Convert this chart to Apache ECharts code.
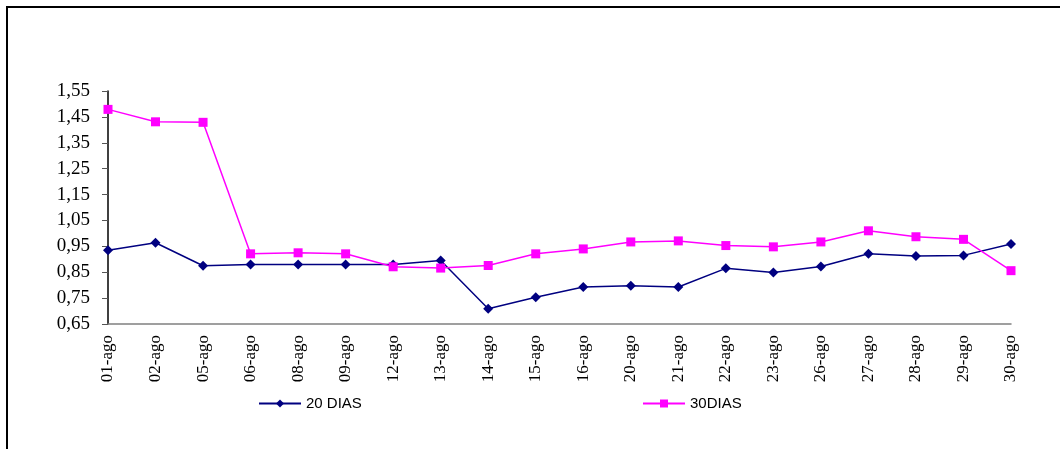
<!DOCTYPE html>
<html>
<head>
<meta charset="utf-8">
<script src="https://cdn.jsdelivr.net/npm/echarts@6/dist/echarts.min.js"></script>
<style>
html,body{margin:0;padding:0;background:#fff;}
#chart{width:1060px;height:449px;}
</style>
</head>
<body>
<div id="chart"></div>
<script>
const categories = ['01-ago','02-ago','05-ago','06-ago','08-ago','09-ago','12-ago','13-ago','14-ago','15-ago','16-ago','20-ago','21-ago','22-ago','23-ago','26-ago','27-ago','28-ago','29-ago','30-ago'];
const dias20 = [0.935,0.964,0.875,0.880,0.880,0.880,0.880,0.895,0.709,0.753,0.793,0.798,0.793,0.865,0.849,0.872,0.921,0.913,0.915,0.959];
const dias30 = [1.479,1.431,1.429,0.921,0.925,0.921,0.871,0.866,0.876,0.921,0.940,0.967,0.971,0.953,0.948,0.967,1.010,0.987,0.977,0.856];
const seriesNames = ['20 DIAS','30DIAS'];

const chart = echarts.init(document.getElementById('chart'));
chart.setOption({
  animation: false,
  backgroundColor: '#fff',
  graphic: [{
    type: 'rect',
    shape: {x: 7, y: 7, width: 1200, height: 600},
    style: {fill: 'none', stroke: '#000', lineWidth: 2},
    silent: true
  }],
  grid: {left: 108, right: 49, top: 91, bottom: 125},
  legend: [
    {data: [seriesNames[0]], left: 253, top: 391, itemWidth: 42, itemHeight: 10, itemGap: 4,
     textStyle: {fontFamily: 'Liberation Sans', fontSize: 15, color: '#000'}},
    {data: [seriesNames[1]], left: 637, top: 391, itemWidth: 42, itemHeight: 10, itemGap: 4,
     textStyle: {fontFamily: 'Liberation Sans', fontSize: 15, color: '#000'}}
  ],
  xAxis: {
    type: 'category',
    data: categories,
    boundaryGap: false,
    axisLine: {lineStyle: {color: '#808080', width: 1.5}},
    axisTick: {show: false},
    axisLabel: {rotate: 90, margin: 11, fontFamily: 'Liberation Serif', fontSize: 17, color: '#000', interval: 0}
  },
  yAxis: {
    type: 'value',
    min: 0.65,
    max: 1.55,
    interval: 0.1,
    axisLine: {show: true, lineStyle: {color: '#000', width: 1.5}},
    axisTick: {show: true, length: 6, lineStyle: {color: '#555'}},
    splitLine: {show: false},
    axisLabel: {margin: 18, fontFamily: 'Liberation Serif', fontSize: 19, color: '#000',
      formatter: v => v.toFixed(2).replace('.', ',')}
  },
  series: [
    {name: seriesNames[0], type: 'line', data: dias20, symbol: 'diamond', symbolSize: 10,
     lineStyle: {color: '#000080', width: 1.5}, itemStyle: {color: '#000080'}},
    {name: seriesNames[1], type: 'line', data: dias30, symbol: 'rect', symbolSize: 9,
     lineStyle: {color: '#FF00FF', width: 1.5}, itemStyle: {color: '#FF00FF'}}
  ]
});
</script>
</body>
</html>
